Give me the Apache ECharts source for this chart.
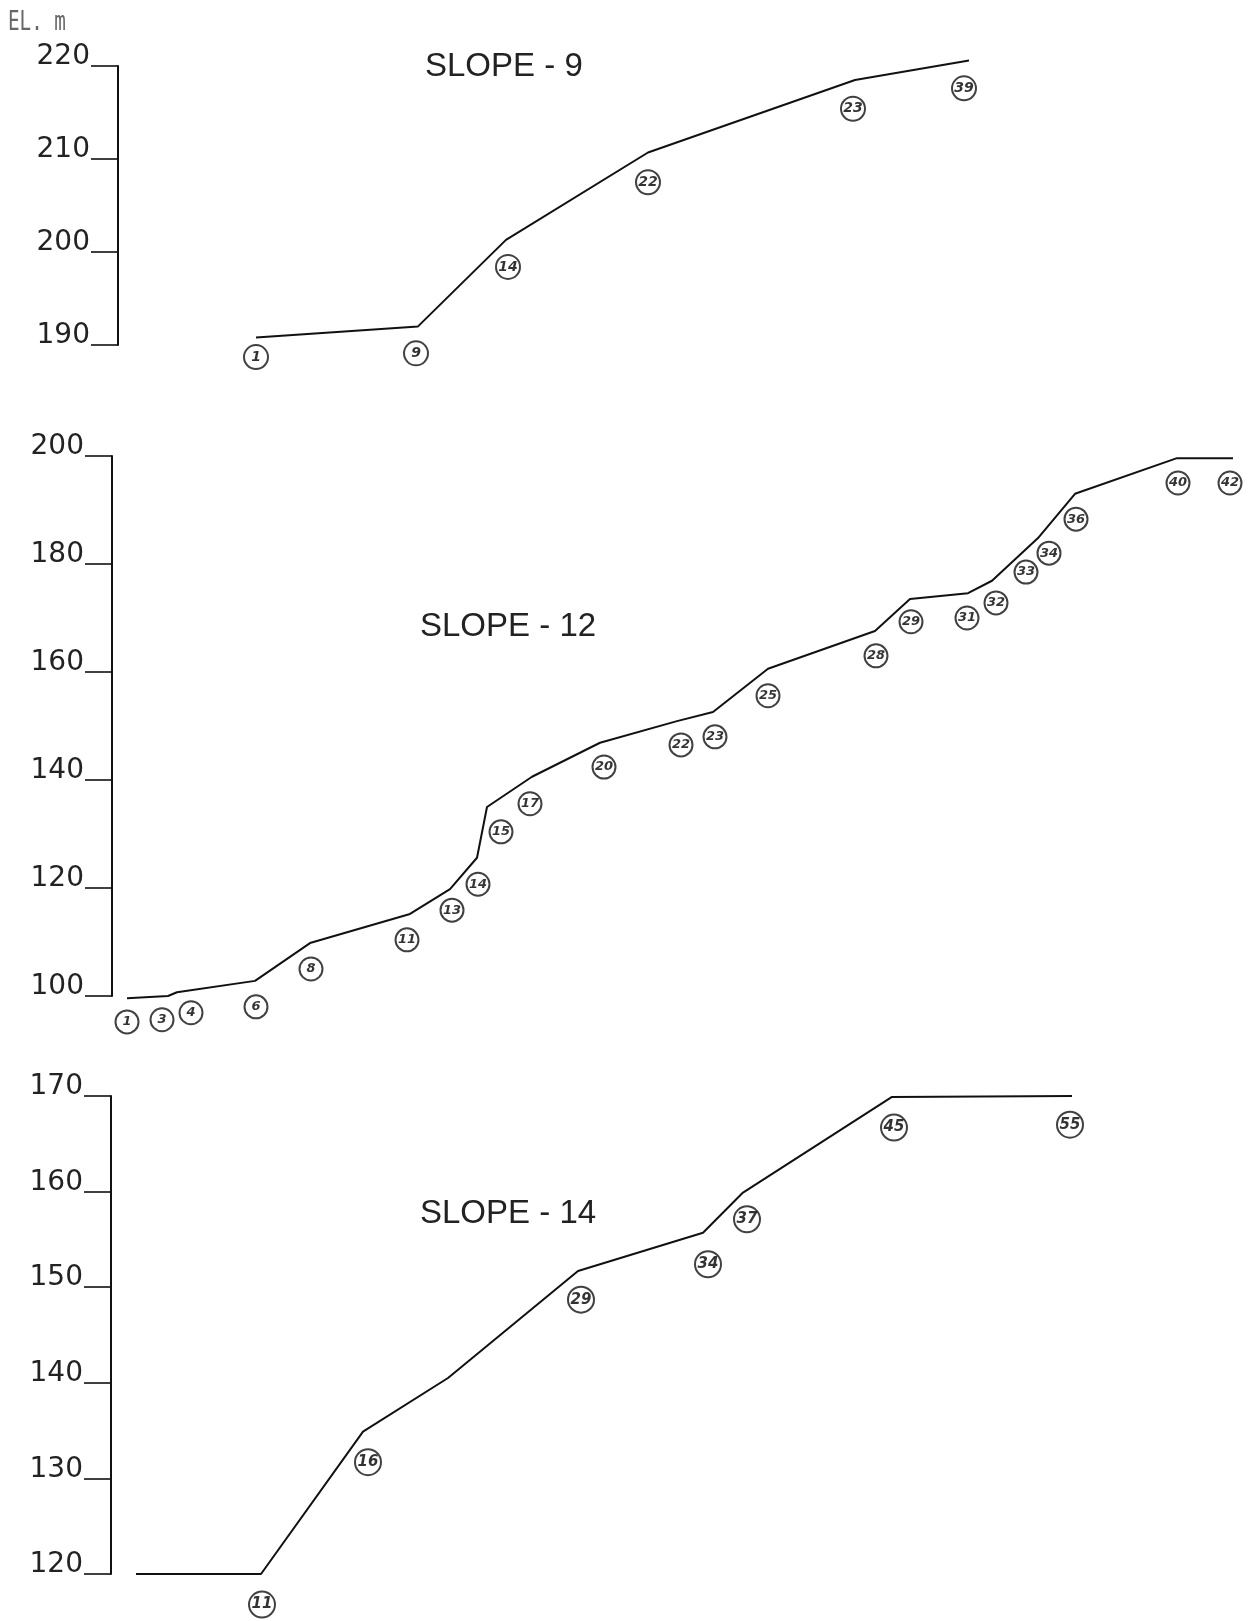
<!DOCTYPE html>
<html>
<head>
<meta charset="utf-8">
<script src="https://cdn.jsdelivr.net/npm/echarts@6/dist/echarts.min.js"></script>
<style>
html,body{margin:0;padding:0;background:#fff;}
#chart{width:1256px;height:1621px;}
</style>
</head>
<body>
<div id="chart"></div>
<script>
// ---------- DATA ----------
// Horizontal distance (chart units) and elevation (EL. m) of profile vertices
const titles = ['SLOPE - 9', 'SLOPE - 12', 'SLOPE - 14'];
const yUnitLabel = 'EL. m';

// SLOPE-9
const s9LineX  = [138, 300, 388, 530, 737, 851];
const s9LineEl = [190.8, 192.0, 201.3, 210.7, 218.5, 220.6];
const s9Stations = ['1', '9', '14', '22', '23', '39'];
const s9LabelX  = [138, 298, 390, 530, 735, 846];
const s9LabelEl = [188.7, 189.1, 198.4, 207.5, 215.4, 217.6];
const s9Ticks = [190, 200, 210, 220];

// SLOPE-12
const s12LineX  = [15, 56, 65, 143, 198, 298, 338, 365, 375, 420, 488, 565, 601, 656, 763, 798, 856, 880, 926, 963, 1065, 1121];
const s12LineEl = [99.6, 100.0, 100.7, 102.8, 109.8, 115.2, 119.8, 125.6, 135.0, 140.6, 146.9, 150.9, 152.6, 160.6, 167.6, 173.5, 174.6, 176.9, 184.8, 193.0, 199.6, 199.6];
const s12Stations = ['1', '3', '4', '6', '8', '11', '13', '14', '15', '17', '20', '22', '23', '25', '28', '29', '31', '32', '33', '34', '36', '40', '42'];
const s12LabelX  = [15, 50, 79, 144, 199, 295, 340, 366, 389, 418, 492, 569, 603, 656, 764, 799, 855, 884, 914, 937, 964, 1066, 1118];
const s12LabelEl = [95.2, 95.6, 96.9, 98.0, 105.0, 110.4, 115.9, 120.7, 130.4, 135.6, 142.4, 146.5, 148.0, 155.6, 163.0, 169.3, 170.0, 172.8, 178.5, 182.0, 188.3, 195.0, 195.0];
const s12Ticks = [100, 120, 140, 160, 180, 200];

// SLOPE-14
const s14LineX  = [25, 150, 252, 337, 467, 592, 632, 781, 961];
const s14LineEl = [120.0, 120.0, 134.9, 140.5, 151.7, 155.7, 159.9, 169.9, 170.0];
const s14Stations = ['11', '16', '29', '34', '37', '45', '55'];
const s14LabelX  = [151, 257, 470, 597, 636, 783, 959];
const s14LabelEl = [116.8, 131.7, 148.7, 152.4, 157.1, 166.7, 167.0];
const s14Ticks = [120, 130, 140, 150, 160, 170];

// ---------- BUILD ----------
const zip = (a, b) => a.map((v, i) => [v, b[i]]);
const panels = [
  {lx: s9LineX, le: s9LineEl, st: s9Stations, sx: s9LabelX, se: s9LabelEl, ticks: s9Ticks,
   grid: {left: 118, top: 66, height: 279}, circle: 24, fs: 14},
  {lx: s12LineX, le: s12LineEl, st: s12Stations, sx: s12LabelX, se: s12LabelEl, ticks: s12Ticks,
   grid: {left: 112, top: 456, height: 540}, circle: 23, fs: 13},
  {lx: s14LineX, le: s14LineEl, st: s14Stations, sx: s14LabelX, se: s14LabelEl, ticks: s14Ticks,
   grid: {left: 111, top: 1096, height: 478}, circle: 26, fs: 15}
];
const XW = 1130;
const ink = '#111';
const titleFont = '33px "Liberation Sans", sans-serif';

const option = {
  backgroundColor: '#fff',
  animation: false,
  grid: panels.map(p => ({left: p.grid.left, top: p.grid.top, height: p.grid.height, width: XW, containLabel: false})),
  xAxis: panels.map((p, i) => ({gridIndex: i, type: 'value', min: 0, max: XW, show: false})),
  yAxis: panels.map((p, i) => ({
    gridIndex: i, type: 'value',
    min: p.ticks[0], max: p.ticks[p.ticks.length - 1],
    interval: p.ticks[1] - p.ticks[0],
    axisLine: {show: true, onZero: false, lineStyle: {color: ink, width: 2}},
    axisTick: {show: true, inside: false, length: 27, lineStyle: {color: ink, width: 1.6}},
    axisLabel: {
      show: true, margin: 28, color: '#222', fontSize: 28,
      fontFamily: '"DejaVu Sans", sans-serif', verticalAlign: 'bottom', lineHeight: 18
    },
    splitLine: {show: false}
  })),
  series: [],
  graphic: [
    {type: 'text', left: 8, top: 10, scaleX: 0.74,
     style: {text: yUnitLabel, font: '26px "DejaVu Sans Mono", monospace', fill: '#666'}},
    {type: 'text', left: 425, top: 50,
     style: {text: titles[0], font: titleFont, fill: '#222'}},
    {type: 'text', left: 420, top: 610,
     style: {text: titles[1], font: titleFont, fill: '#222'}},
    {type: 'text', left: 420, top: 1197,
     style: {text: titles[2], font: titleFont, fill: '#222'}}
  ]
};

panels.forEach((p, i) => {
  option.series.push({
    type: 'line', xAxisIndex: i, yAxisIndex: i,
    data: zip(p.lx, p.le),
    showSymbol: false, clip: false, silent: true,
    lineStyle: {color: ink, width: 2}
  });
  option.series.push({
    type: 'scatter', xAxisIndex: i, yAxisIndex: i,
    data: p.sx.map((x, k) => ({value: [x, p.se[k]], name: p.st[k]})),
    symbol: 'circle', symbolSize: p.circle, clip: false, silent: true,
    itemStyle: {color: '#fff', borderColor: ink, borderWidth: 2},
    label: {
      show: true, position: 'inside', formatter: d => d.name,
      color: '#000', fontSize: p.fs, fontStyle: 'italic', fontWeight: 'bold',
      fontFamily: '"DejaVu Sans", sans-serif'
    }
  });
});

const chart = echarts.init(document.getElementById('chart'), null, {renderer: 'canvas'});
chart.setOption(option);
</script>
</body>
</html>
